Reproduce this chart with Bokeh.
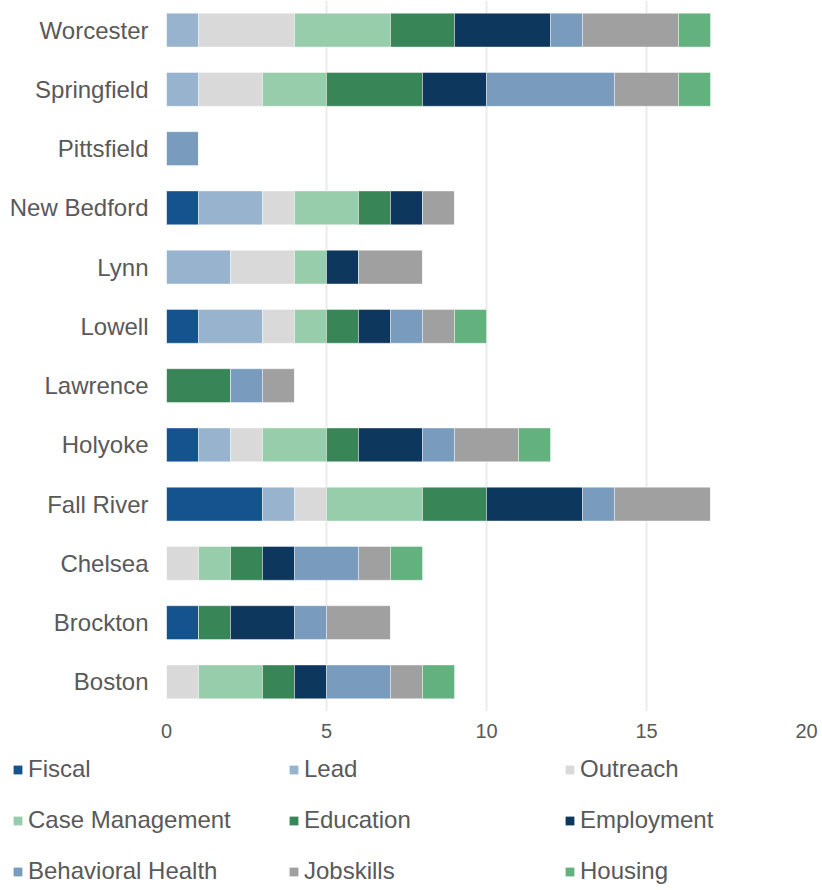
from bokeh.plotting import figure
from bokeh.models import ColumnDataSource, FactorRange, Range1d, Legend, LegendItem, FixedTicker
from bokeh.embed import file_html
from bokeh.resources import INLINE

cities = ["Boston", "Brockton", "Chelsea", "Fall River", "Holyoke", "Lawrence",
          "Lowell", "Lynn", "New Bedford", "Pittsfield", "Springfield", "Worcester"]
categories = ["Fiscal", "Lead", "Outreach", "Case Management", "Education",
              "Employment", "Behavioral Health", "Jobskills", "Housing"]
fiscal = [0, 1, 0, 3, 1, 0, 1, 0, 1, 0, 0, 0]
lead = [0, 0, 0, 1, 1, 0, 2, 2, 2, 0, 1, 1]
outreach = [1, 0, 1, 1, 1, 0, 1, 2, 1, 0, 2, 3]
case_management = [2, 0, 1, 3, 2, 0, 1, 1, 2, 0, 2, 3]
education = [1, 1, 1, 2, 1, 2, 1, 0, 1, 0, 3, 2]
employment = [1, 2, 1, 3, 2, 0, 1, 1, 1, 0, 2, 3]
behavioral_health = [2, 1, 2, 1, 1, 1, 1, 0, 0, 1, 4, 1]
jobskills = [1, 2, 1, 3, 2, 1, 1, 2, 1, 0, 2, 3]
housing = [1, 0, 1, 0, 1, 0, 1, 0, 0, 0, 1, 1]
x_ticks = [0, 5, 10, 15, 20]

colors = ["#15538f", "#97b3cd", "#d9d9d9", "#98cdab", "#388558",
          "#0e375e", "#799bbd", "#a0a0a0", "#63b17f"]

series = [fiscal, lead, outreach, case_management, education,
          employment, behavioral_health, jobskills, housing]
data = {"city": cities}
for name, vals in zip(categories, series):
    data[name] = vals
source = ColumnDataSource(data)

TEXT = "#595959"
FONT = "Liberation Sans"

p = figure(width=819, height=740, y_range=FactorRange(factors=cities, range_padding=0),
           x_range=Range1d(0, 20), output_backend="svg", toolbar_location=None,
           min_border_left=166, min_border_right=13, min_border_top=0, min_border_bottom=0)
p.hbar_stack(categories, y="city", height=0.57, color=colors, source=source,
             line_color="white", line_alpha=0.5, line_width=0.8)

p.outline_line_color = None
p.ygrid.grid_line_color = None
p.xgrid.grid_line_color = "#ebebeb"
p.xgrid.grid_line_width = 2
p.xaxis.ticker = FixedTicker(ticks=x_ticks)
for ax in (p.xaxis[0], p.yaxis[0]):
    ax.axis_line_color = None
    ax.major_tick_line_color = None
    ax.minor_tick_line_color = None
    ax.major_tick_out = 0
    ax.major_tick_in = 0
    ax.major_label_text_color = TEXT
    ax.major_label_text_font = FONT
p.yaxis.major_label_text_font_size = "24px"
p.yaxis.major_label_standoff = 18
p.xaxis.major_label_text_font_size = "20px"
p.xaxis.major_label_standoff = 12

# legend panel: same series drawn with zero bar height, only the legend shows
lg = figure(width=819, height=146, y_range=FactorRange(factors=cities),
            x_range=Range1d(0, 20), output_backend="svg", toolbar_location=None,
            x_axis_location=None, y_axis_location=None,
            min_border_left=0, min_border_right=0, min_border_top=0, min_border_bottom=0)
lg.grid.visible = False
lg.outline_line_color = None
lg_renderers = lg.hbar_stack(categories, y="city", height=0, fill_color=colors,
                             line_color=None, source=source)

items = [LegendItem(label=name, renderers=[r]) for name, r in zip(categories, lg_renderers)]
legend = Legend(items=items, location=(12, 1), orientation="horizontal", ncols=3,
                glyph_width=11, glyph_height=11, label_standoff=5,
                label_width=237, label_height=26, spacing=23,
                label_text_font=FONT, label_text_font_size="24px",
                label_text_color=TEXT, padding=0, margin=0,
                border_line_color=None, background_fill_alpha=0)
lg.add_layout(legend)

open("out.html", "w").write(file_html([p, lg], INLINE))
